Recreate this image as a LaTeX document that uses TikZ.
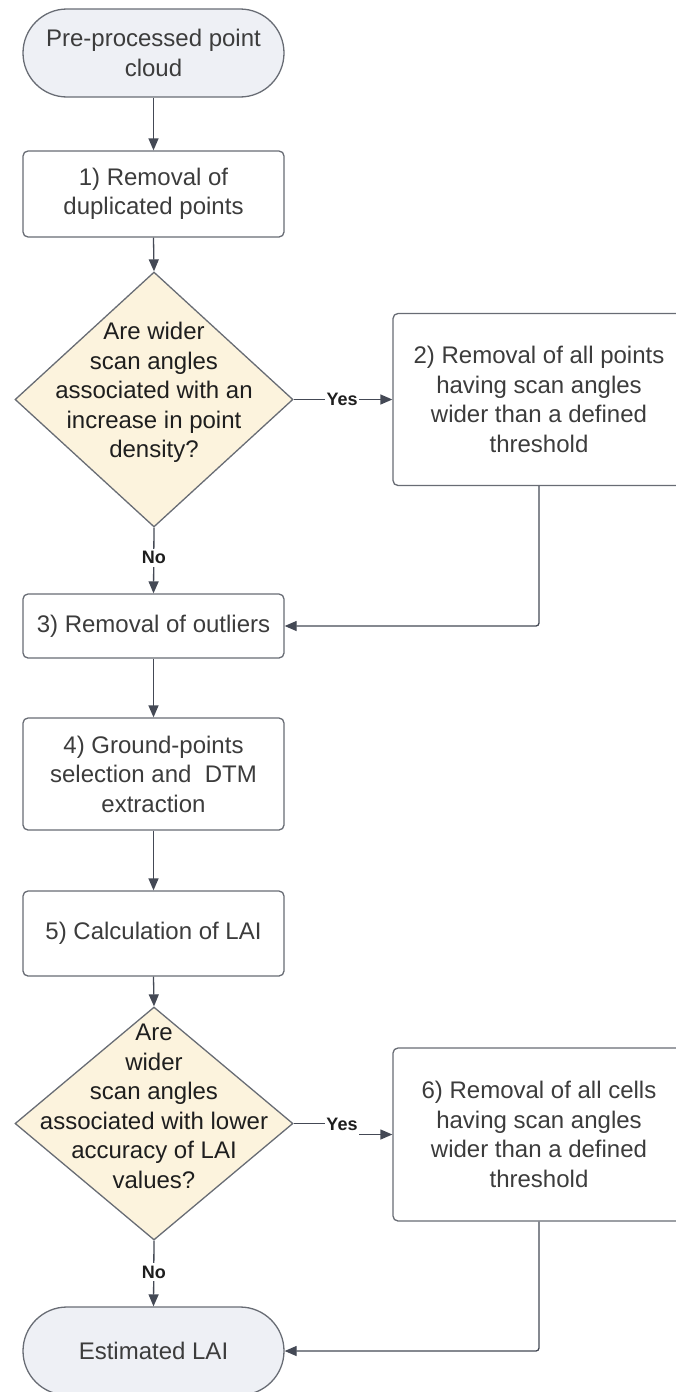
\documentclass[tikz,border=0pt]{standalone}
\usepackage{fontspec}
\setmainfont{Liberation Sans}
\usetikzlibrary{arrows.meta,shapes.geometric}
\definecolor{edge}{HTML}{686C74}
\definecolor{arrowc}{HTML}{444955}
\definecolor{termfill}{HTML}{EEF0F5}
\definecolor{diafill}{HTML}{FCF3DD}
\definecolor{txt}{HTML}{3C3C3C}
\definecolor{dtxt}{HTML}{1E1E1E}
\begin{document}
\begin{tikzpicture}[x=1pt,y=-1pt,
  font=\fontsize{24}{29.5}\selectfont,
  stepbox/.style={draw=edge, line width=1.3pt, rounded corners=5pt, fill=white,
    minimum width=261pt, text=txt, align=center, inner sep=0pt},
  wide/.style={stepbox, minimum width=292pt},
  term/.style={stepbox, rounded corners=44pt, fill=termfill, minimum height=88pt},
  dia/.style={draw=edge, line width=1.3pt, fill=diafill, diamond, inner sep=0pt,
    minimum width=278pt},
  dtext/.style={text=dtxt, align=center, inner sep=0pt},
  lbl/.style={font=\fontsize{18}{20}\selectfont\bfseries, text=dtxt, fill=white,
    inner xsep=1.5pt, inner ysep=0pt, minimum height=18pt},
  arr/.style={draw=arrowc, line width=1.3pt, -{Triangle[length=12pt,width=10pt]}}]
\useasboundingbox (0,0) rectangle (676,1392);
\clip (0,0) rectangle (676,1392);

% nodes
\node[term] (start) at (153.5,53) {Pre-processed point\\cloud};
\node[stepbox, minimum height=86pt] (b1) at (153.5,194) {1) Removal of\\duplicated points};
\node[dia, minimum height=255pt] (d1) at (154,399.5) {};
\node[dtext] (d1t) at (154,392.5) {Are wider\\scan angles\\associated with an\\increase in point\\density?};
\node[wide, minimum height=172pt] (b2) at (539,399.5) {2) Removal of all points\\having scan angles\\wider than a defined\\threshold};
\node[stepbox, minimum height=64pt] (b3) at (153.5,626) {3) Removal of outliers};
\node[stepbox, minimum height=112pt] (b4) at (153.5,774) {4) Ground-points\\selection and\ \ DTM\\extraction};
\node[stepbox, minimum height=85pt] (b5) at (153.5,933.5) {5) Calculation of LAI};
\node[dia, minimum height=233pt] (d2) at (154,1123.5) {};
\node[dtext] (d2t) at (154,1106.5) {Are\\wider\\scan angles\\associated with lower\\accuracy of LAI\\values?};
\node[wide, minimum height=173pt] (b6) at (539,1134.5) {6) Removal of all cells\\having scan angles\\wider than a defined\\threshold};
\node[term] (end) at (153.5,1351) {Estimated LAI};

% connectors
\draw[arr] (start.south) -- (b1.north);
\draw[arr] (b1.south) -- (d1.north);
\draw[arr] (d1.east) -- node[lbl, pos=0.49] (yes1) {Yes} (b2.west);
\draw[arr] (d1.south) -- node[lbl, pos=0.46] (no1) {No} (b3.north);
\draw[arr, rounded corners=3pt] (b2.south) |- (b3.east);
\draw[arr] (b3.south) -- (b4.north);
\draw[arr] (b4.south) -- (b5.north);
\draw[arr] (b5.south) -- (d2.north);
\draw[arr] (d2.east) -- ++(49,0) |- (b6.west);
\node[lbl, minimum height=22pt] (yes2) at (342,1124.5) {Yes};
\draw[arr] (d2.south) -- node[lbl, pos=0.48] (no2) {No} (end.north);
\draw[arr, rounded corners=3pt] (b6.south) |- (end.east);
\end{tikzpicture}
\end{document}
